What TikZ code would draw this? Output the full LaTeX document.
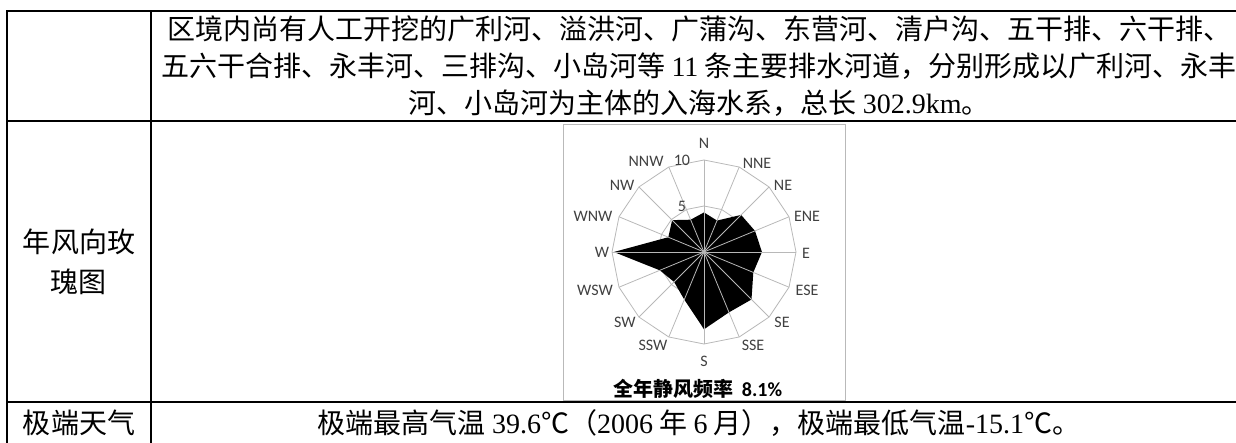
\documentclass[tikz,border=0pt]{standalone}
\usepackage{fontspec}
\setmainfont{Liberation Serif}
\newfontfamily\cjk{Noto Sans CJK SC}
\newfontfamily\rosefont{Carlito}
\newcommand\lat[1]{{\rmfamily #1}}
\definecolor{gridgray}{gray}{0.72}
\definecolor{labelgray}{gray}{0.25}

\begin{document}
\begin{tikzpicture}[
    x=1pt, y=-1pt,
    rule/.style={line width=1.6pt},
    cell/.style={inner sep=0pt, font=\cjk\fontsize{28}{40}\selectfont},
    dirlabel/.style={inner sep=0pt, text=labelgray, font=\rosefont\fontsize{16}{16}\selectfont},
    gridline/.style={draw=gridgray, line width=0.8pt}
]
    \useasboundingbox (0,0) rectangle (1236,443);

    % table rules
    \draw[rule, line width=2pt] (6,11) -- (1236,11);
    \draw[rule] (7,121) -- (1236,121);
    \draw[rule] (7,402) -- (1236,402);
    \draw[rule] (7,11) -- (7,443);
    \draw[rule] (151,11) -- (151,443);

    % row 1
    \node[cell] (rivers1) at (699,29) {区境内尚有人工开挖的广利河、溢洪河、广蒲沟、东营河、清户沟、五干排、六干排、};
    \node[cell] (rivers2) at (699,66) {五六干合排、永丰河、三排沟、小岛河等 \lat{11} 条主要排水河道，分别形成以广利河、永丰};
    \node[cell] (rivers3) at (699,103) {河、小岛河为主体的入海水系，总长 \lat{302.9km}。};

    % row 2
    \node[cell, align=center] (rosename) at (79,262) {年风向玫\\瑰图};
    \draw[gray!55] (563,124) rectangle (845,400);

    \begin{scope}[shift={(704,252)}, x=9.2pt, y=9.2pt]
        \coordinate (origin) at (0,0);
        \foreach \r in {5,10}
            \draw[gridline] (90:\r) \foreach \k in {1,...,15} { -- (90+\k*22.5:\r) } -- cycle;
        \fill[black] (90:4.3) -- (67.5:3.7) -- (45:5.7) -- (22.5:6.0) -- (0:6.3)
            -- (-22.5:5.8) -- (-45:7.3) -- (-67.5:7.1) -- (-90:8.4) -- (-112.5:5.6)
            -- (-135:4.6) -- (-157.5:5.2) -- (180:9.8) -- (157.5:4.2) -- (135:4.9)
            -- (112.5:3.8) -- cycle;
        \foreach \a in {0,22.5,...,337.5}
            \draw[gridline] (origin) -- (\a:10);

        % direction labels
        \foreach \t/\x/\y in {N/0/11.85, NNE/5.76/9.67, NE/8.59/7.28, ENE/11.2/3.91,
                              E/11.09/-0.1, ESE/11.2/-4.13, SE/8.48/-7.61, SSE/5.33/-10.1,
                              S/0/-11.85, SSW/-5.54/-10.1, SW/-8.59/-7.61, WSW/-11.85/-4.13,
                              W/-11.09/0, WNW/-12.07/3.91, NW/-8.91/7.28, NNW/-6.3/9.89}
            \node[dirlabel] (dir-\t) at (\x,\y) {\t};

        \node[dirlabel, anchor=east] (tick5) at (-1.95,4.9) {5};
        \node[dirlabel, anchor=east] (tick10) at (-1.5,10) {10};
    \end{scope}

    \node[inner sep=0pt, font=\fontsize{20}{20}\selectfont\bfseries] (calm) at (698,389)
        {{\cjk 全年静风频率}\hspace{8pt}{\rosefont 8.1\%}};

    % row 3
    \node[cell] (extremename) at (79,423) {极端天气};
    \node[cell] (extreme) at (699,423) {极端最高气温 \lat{39.6}℃（\lat{2006} 年 \lat{6} 月），极端最低气温\lat{-15.1}℃。};

\end{tikzpicture}
\end{document}
